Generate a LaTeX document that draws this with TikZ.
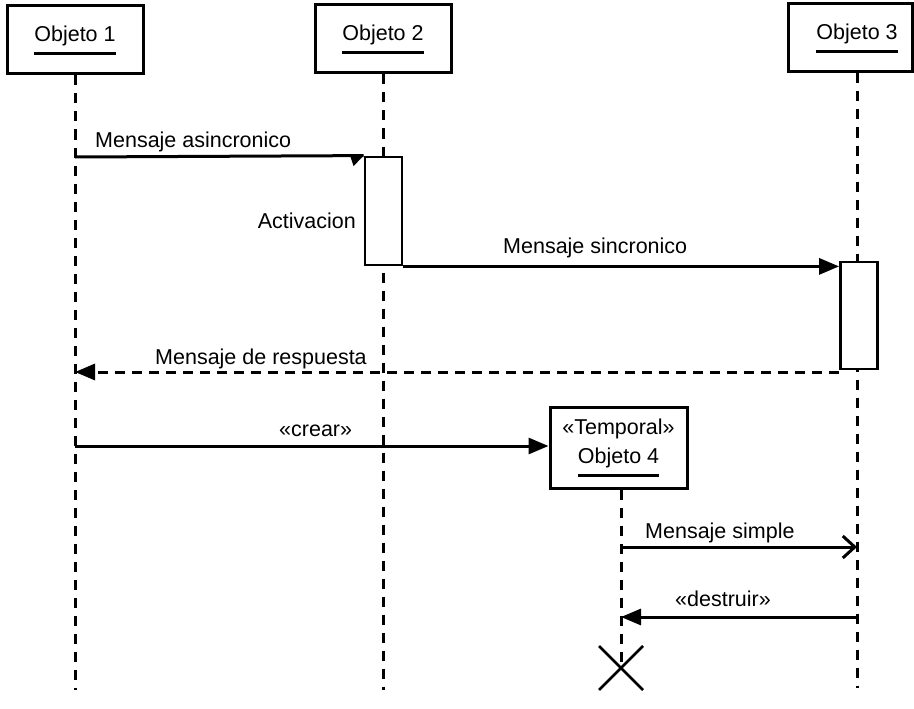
\documentclass[tikz,border=0pt]{standalone}
\usepackage{fontspec}
\setmainfont{Liberation Sans}
\usetikzlibrary{arrows.meta}
\newcommand\objul[1]{\vtop{\hbox{#1}\vskip 6pt\hrule height 3pt}}
\begin{document}
\begin{tikzpicture}[x=1pt,y=-1pt,
  font=\fontsize{21.5}{29}\selectfont,
  objbox/.style={draw, line width=3pt, minimum width=136pt, minimum height=68pt, inner sep=0pt},
  lifeline/.style={dash pattern=on 10pt off 8pt, line width=3pt},
  actbox/.style={draw, fill=white, line width=2.8pt, minimum width=37pt, inner sep=0pt},
  msg/.style={line width=3pt},
  filled/.style={-{Triangle[length=20pt,width=16pt]}},
  openarr/.style={-{Straight Barb[length=12pt,width=22pt,line width=3pt]}},
  lbl/.style={inner sep=0pt}]
\useasboundingbox (0,0) rectangle (914,709);

% objects
\node[objbox] (o1) at (75,40) {\objul{Objeto 1}};
\node[objbox] (o2) at (383,39) {\objul{Objeto 2}};
\node[objbox, minimum width=124pt] (o3) at (850,38) {};
\node[lbl] (t3) at (857,38) {\objul{Objeto 3}};
\node[objbox, minimum width=137pt, minimum height=81pt, align=center] (o4) at (618.5,447.5)
  {«Temporal»\\\objul{Objeto 4}};

% lifeline ends
\coordinate (e1) at (75,690);
\coordinate (e2) at (383,690);
\coordinate (e3) at (857,688);
\coordinate (e4) at (621,668);

\draw[lifeline] (o1.south) -- (e1);
\draw[lifeline] (o2.south) -- (e2);
\draw[lifeline] (o3.south -| t3) -- (e3);
\draw[lifeline] (o4.south -| e4) -- (e4);

% activations
\node[actbox, minimum height=108pt] (a2) at (383.5,211) {};
\node[actbox, minimum height=107pt] (a3) at (859,315.5) {};

% message anchors
\coordinate (m1s) at (75,157);
\coordinate (m3e) at (75,372);
\coordinate (m4s) at (75,446);
\coordinate (m5s) at (621,547);
\coordinate (m5e) at (857,547);
\coordinate (m6s) at (857,617);
\coordinate (m6e) at (621,617);

% messages
\draw[msg] (m1s) -- (a2.north west);
\fill (a2.north west) -- ++(-14,-1.5) -- ++(4,12) -- cycle;
\draw[msg, filled] (a2.south east) -- (a2.south east -| a3.west);
\draw[msg, filled, dash pattern=on 10pt off 7pt] (a3.south west |- m3e) -- (m3e);
\draw[msg, filled] (m4s) -- (o4.west |- m4s);
\draw[msg, openarr] (m5s) -- (m5e);
\draw[msg, filled] (m6s) -- (m6e);

% destruction
\draw[line width=2.6pt] (e4) ++(-22,-22) -- ++(44,44);
\draw[line width=2.6pt] (e4) ++(22,-22) -- ++(-44,44);

% labels
\node[lbl, anchor=base west] (l1) at (95,147) {Mensaje asincronico};
\node[lbl, anchor=base east] (l2) at (356,228) {Activacion};
\node[lbl, anchor=base west] (l3) at (503,253) {Mensaje sincronico};
\node[lbl, anchor=base west] (l4) at (155,364) {Mensaje de respuesta};
\node[lbl, anchor=base west] (l5) at (279,436) {«crear»};
\node[lbl, anchor=base west] (l6) at (645,538) {Mensaje simple};
\node[lbl, anchor=base west] (l7) at (675,606) {«destruir»};
\end{tikzpicture}
\end{document}
